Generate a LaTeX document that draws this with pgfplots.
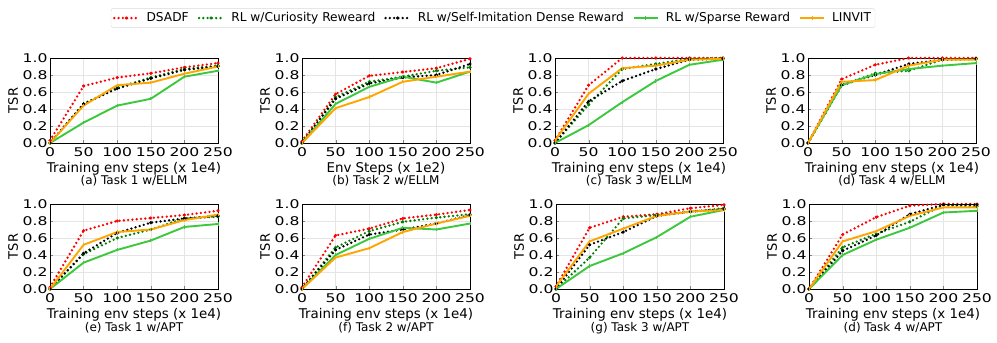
\documentclass[border=0pt]{standalone}
\usepackage{fontspec}
\setmainfont{DejaVu Sans}
\newfontfamily\tickfont{DejaVu Sans}[FakeStretch=1.3]
\usepackage{pgfplots}
\usepackage{pgfplotstable}
\pgfplotsset{compat=1.18}

\definecolor{cred}{HTML}{FF0000}
\definecolor{cgreen}{HTML}{008000}
\definecolor{csparse}{HTML}{3CC83C}
\definecolor{corange}{HTML}{FFA500}

% columns: x, DSADF, curiosity, self-imitation, sparse, LINVIT
\pgfplotstableread{
x   r    g    k    s    o
0   0.03 0.00 0.00 0.00 0.00
50  0.67 0.46 0.46 0.24 0.44
100 0.77 0.65 0.64 0.44 0.68
150 0.82 0.77 0.76 0.52 0.71
200 0.89 0.87 0.86 0.78 0.815
250 0.94 0.91 0.90 0.85 0.90
}\ta
\pgfplotstableread{
x   r    g    k    s    o
0   0.02 0.00 0.00 0.00 0.00
50  0.575 0.54 0.52 0.46 0.41
100 0.79 0.72 0.70 0.66 0.54
150 0.835 0.78 0.77 0.78 0.72
200 0.88 0.85 0.80 0.71 0.78
250 0.99 0.89 0.93 0.84 0.84
}\tb
\pgfplotstableread{
x   r    g    k    s    o
0   0.03 0.00 0.00 0.00 0.03
50  0.68 0.45 0.49 0.21 0.58
100 1.00 0.87 0.73 0.48 0.88
150 1.00 0.93 0.87 0.73 0.91
200 1.00 0.99 0.98 0.92 0.98
250 1.00 1.00 0.99 0.98 0.99
}\tc
\pgfplotstableread{
x   r    g    k    s    o
0   0.00 0.00 0.00 0.00 0.00
50  0.75 0.68 0.68 0.68 0.72
100 0.92 0.82 0.80 0.81 0.74
150 1.00 0.85 0.93 0.87 0.91
200 1.00 0.98 0.98 0.91 0.98
250 1.00 0.99 0.99 0.94 0.98
}\td
\pgfplotstableread{
x   r    g    k    s    o
0   0.02 0.00 0.00 0.00 0.00
50  0.686 0.41 0.42 0.31 0.52
100 0.80 0.60 0.66 0.46 0.67
150 0.835 0.70 0.78 0.57 0.70
200 0.87 0.83 0.83 0.73 0.81
250 0.92 0.85 0.86 0.765 0.875
}\te
\pgfplotstableread{
x   r    g    k    s    o
0   0.02 0.00 0.00 0.00 0.00
50  0.63 0.49 0.46 0.40 0.37
100 0.71 0.68 0.64 0.59 0.48
150 0.83 0.79 0.70 0.72 0.67
200 0.875 0.84 0.77 0.70 0.77
250 0.93 0.88 0.87 0.77 0.86
}\tf
\pgfplotstableread{
x   r    g    k    s    o
0   0.03 0.00 0.00 0.00 0.03
50  0.72 0.37 0.52 0.27 0.56
100 0.85 0.83 0.67 0.42 0.71
150 0.88 0.87 0.86 0.61 0.86
200 0.95 0.91 0.91 0.85 0.91
250 0.99 0.95 0.94 0.93 0.93
}\tg
\pgfplotstableread{
x   r    g    k    s    o
0   0.00 0.00 0.00 0.00 0.00
50  0.64 0.49 0.45 0.40 0.56
100 0.845 0.65 0.63 0.58 0.68
150 0.98 0.79 0.88 0.72 0.86
200 1.00 0.99 0.99 0.90 0.96
250 1.00 0.97 0.99 0.92 0.96
}\th

\pgfplotsset{
  panel/.style={
    scale only axis, width=168pt, height=85pt,
    xmin=0, xmax=250, ymin=0, ymax=1,
    xtick={0,50,100,150,200,250},
    ytick={0,0.2,0.4,0.6,0.8,1.0},
    yticklabel style={/pgf/number format/fixed, /pgf/number format/fixed zerofill,
      /pgf/number format/precision=1, xshift=1pt},
    /pgf/number format/assume math mode=true,
    ticklabel style={font=\tickfont\fontsize{12}{12}\selectfont},
    xticklabel style={anchor=base, yshift=-13.5pt},
    tick align=inside, xtick pos=bottom, ytick pos=left,
    major tick length=3pt,
    grid=major, major grid style={black!10, line width=0.5pt},
    axis line style={black, line width=0.8pt},
    xlabel style={font=\fontsize{13.4}{14}\selectfont,
      at={(axis description cs:0.5,0)}, anchor=base, yshift=-30pt},
    ylabel={TSR},
    ylabel style={font=\fontsize{13}{14}\selectfont,
      at={(axis description cs:-0.22,0.5)}, anchor=center},
    clip=false,
  },
  dotline/.style={line width=2.6pt, dash pattern=on 0pt off 4.3pt, line cap=round,
    mark=*, mark size=1.4pt, mark options={solid, line width=0.4pt}},
  sol/.style={line width=1.9pt, mark=|, mark size=1.6pt, mark options={solid, line width=1pt}},
}

\newcommand{\panel}[6]{%
\begin{axis}[panel, at={(#1pt,#2pt)}, anchor=south west, xlabel={#4}, #6]
\addplot[dotline, color=cred] table[x=x,y=r]{#3};
\addplot[dotline, color=cgreen] table[x=x,y=g]{#3};
\addplot[dotline, color=black] table[x=x,y=k]{#3};
\addplot[sol, color=csparse] table[x=x,y=s]{#3};
\addplot[sol, color=corange] table[x=x,y=o]{#3};
\node[font=\fontsize{12}{13}\selectfont, anchor=base, inner sep=1pt] at (axis description cs:0.5,0) [yshift=-42pt] {#5};
\end{axis}}

\begin{document}
\begin{tikzpicture}
\useasboundingbox (0,0) rectangle (997pt,343pt);
\panel{50}{200}{\ta}{Training env steps (x 1e4)}{(a) Task 1 w/ELLM}{%
  legend entries={DSADF,RL w/Curiosity Reweard,RL w/Self-Imitation Dense Reward,RL w/Sparse Reward,LINVIT},
  legend columns=5,
  legend style={at={(2.637,1.47)}, anchor=center, draw=black!15, rounded corners=2pt,
    font=\fontsize{12.2}{13}\selectfont, inner sep=2pt,
    /tikz/every odd column/.append style={column sep=5pt},
    /tikz/every even column/.append style={column sep=7pt}},
  legend image code/.code={\draw[mark repeat=2,mark phase=2] plot coordinates {(0pt,0pt) (12pt,0pt) (24pt,0pt)};},
}
\panel{302}{200}{\tb}{Env Steps (x 1e2)}{(b) Task 2 w/ELLM}{}
\panel{555}{200}{\tc}{Training env steps (x 1e4)}{(c) Task 3 w/ELLM}{}
\panel{808}{200}{\td}{Training env steps (x 1e4)}{(d) Task 4 w/ELLM}{}
\panel{50}{54}{\te}{Training env steps (x 1e4)}{(e) Task 1 w/APT}{}
\panel{302}{54}{\tf}{Training env steps (x 1e4)}{(f) Task 2 w/APT}{}
\panel{556}{54}{\tg}{Training env steps (x 1e4)}{(g) Task 3 w/APT}{}
\panel{809}{54}{\th}{Training env steps (x 1e4)}{(d) Task 4 w/APT}{}
\end{tikzpicture}
\end{document}
